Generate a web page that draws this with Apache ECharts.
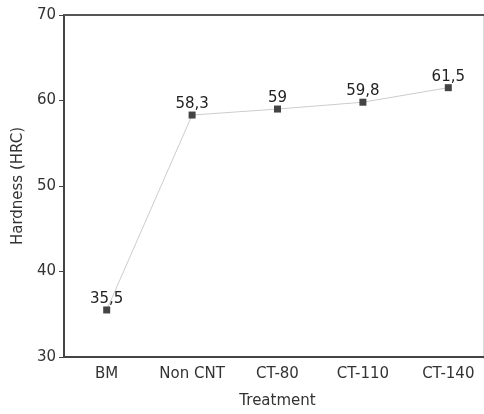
<!DOCTYPE html>
<html>
<head>
<meta charset="utf-8">
<script src="https://cdn.jsdelivr.net/npm/echarts@6/dist/echarts.min.js"></script>
<style>
    html, body { margin: 0; padding: 0; background: #fff; overflow: hidden; }
    /* plot runs a few px past the right edge, as in the cropped original */
    #hardness { width: 492px; height: 414px; }
</style>
</head>
<body>
<div id="hardness"></div>
<script>
const treatments = ['BM', 'Non CNT', 'CT-80', 'CT-110', 'CT-140']
const hardness = [35.5, 58.3, 59, 59.8, 61.5]
const yTicks = { min: 30, max: 70, step: 10 }

let chart = echarts.init(document.getElementById('hardness'))
let font = 'DejaVu Sans, sans-serif'
let option = {
    animation: false,
    grid: { left: 64, right: 1, top: 15, bottom: 55 },
    // faint right frame edge
    graphic: [
        {
            type: 'line',
            shape: { x1: 483.5, y1: 15, x2: 483.5, y2: 359 },
            style: { stroke: '#ddd', lineWidth: 1 }
        }
    ],
    xAxis: [
        {
            type: 'category',
            data: treatments,
            boundaryGap: true,
            name: 'Treatment',
            nameLocation: 'middle',
            nameGap: 37,
            nameTextStyle: { color: '#333', fontSize: 15, fontFamily: font },
            axisLine: { lineStyle: { color: '#444', width: 2 } },
            axisTick: { show: false },
            axisLabel: { color: '#333', fontSize: 15, fontFamily: font, margin: 10, interval: 0 }
        },
        {
            type: 'category',
            position: 'top',
            data: treatments,
            axisLine: { lineStyle: { color: '#555', width: 2 } },
            axisTick: { show: false },
            axisLabel: { show: false }
        }
    ],
    yAxis: [
        {
            type: 'value',
            min: yTicks.min,
            max: yTicks.max,
            interval: yTicks.step,
            name: 'Hardness (HRC)',
            nameLocation: 'middle',
            nameGap: 34,
            nameTextStyle: { color: '#333', fontSize: 15, fontFamily: font },
            axisLine: { show: true, lineStyle: { color: '#444', width: 2 } },
            axisTick: { show: true, length: 5, lineStyle: { color: '#444' } },
            axisLabel: { color: '#333', fontSize: 15, fontFamily: font, margin: 8 },
            splitLine: { show: false }
        }
    ],
    series: [
        {
            type: 'line',
            data: hardness,
            symbol: 'rect',
            symbolSize: 7,
            itemStyle: { color: '#444' },
            lineStyle: { color: '#ccc', width: 1 },
            label: {
                show: true,
                position: 'top',
                distance: 0,
                color: '#222',
                fontSize: 15,
                fontFamily: font,
                formatter: function(p) {
                    return String(p.value).replace('.', ',')
                }
            }
        }
    ]
}
chart.setOption(option)
</script>
</body>
</html>
